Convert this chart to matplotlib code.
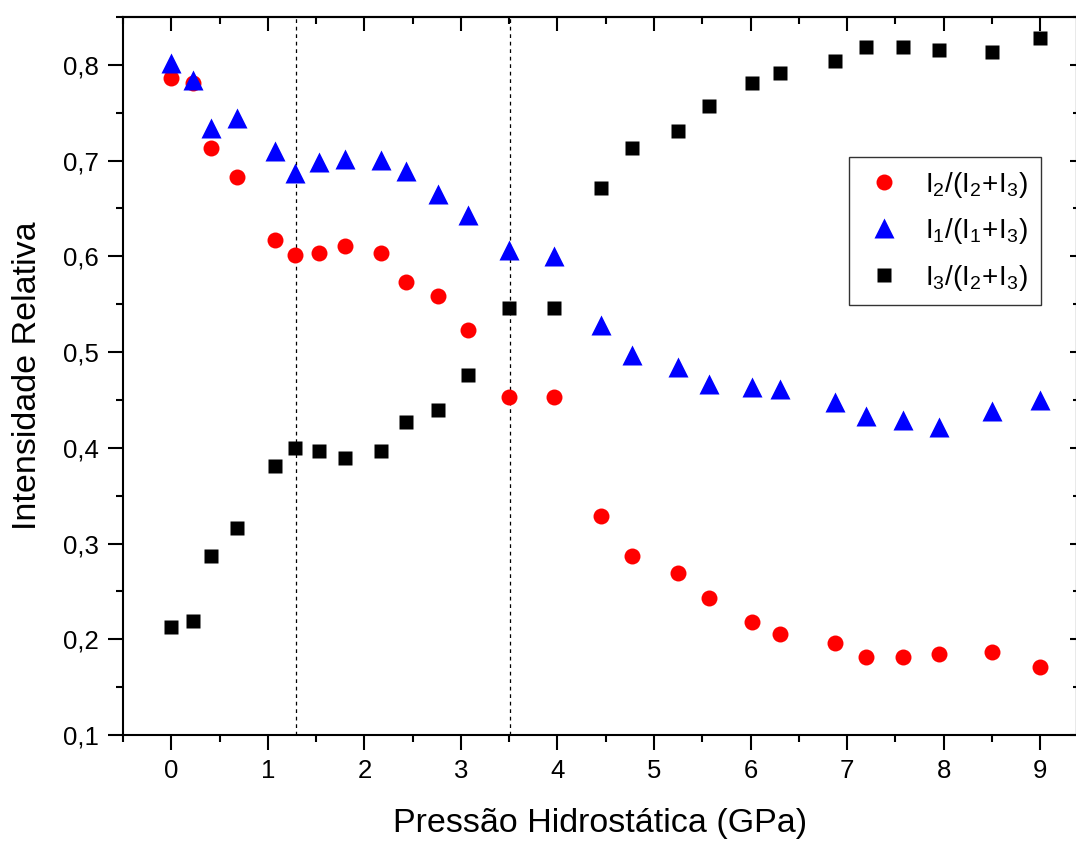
import numpy as np
import matplotlib
matplotlib.use("Agg")
import matplotlib.pyplot as plt
from matplotlib.ticker import MultipleLocator, FuncFormatter

plt.rcParams['font.family'] = ['Liberation Sans', 'DejaVu Sans']
plt.rcParams['mathtext.fontset'] = 'custom'
plt.rcParams['mathtext.rm'] = 'Liberation Sans'
plt.rcParams['mathtext.it'] = 'Liberation Sans'

# pressure points (GPa)
pressao = [0.0, 0.22, 0.41, 0.68, 1.07, 1.28, 1.53, 1.80, 2.17, 2.43, 2.76, 3.07, 3.50,
           3.96, 4.45, 4.77, 5.25, 5.57, 6.01, 6.30, 6.87, 7.19, 7.58, 7.95, 8.50, 9.00]

i2_i2i3 = [0.786, 0.781, 0.713, 0.683, 0.617, 0.601, 0.603, 0.611, 0.604, 0.573, 0.559, 0.523, 0.453,
           0.453, 0.329, 0.287, 0.269, 0.243, 0.218, 0.206, 0.196, 0.181, 0.181, 0.185, 0.187, 0.171]

i1_i1i3 = [0.802, 0.784, 0.734, 0.744, 0.710, 0.687, 0.699, 0.702, 0.701, 0.689, 0.665, 0.643, 0.607,
           0.600, 0.528, 0.497, 0.484, 0.467, 0.463, 0.461, 0.448, 0.433, 0.429, 0.422, 0.438, 0.450]

i3_i2i3 = [0.213, 0.219, 0.287, 0.316, 0.381, 0.400, 0.397, 0.389, 0.397, 0.427, 0.440, 0.476, 0.546,
           0.546, 0.671, 0.713, 0.731, 0.757, 0.781, 0.792, 0.804, 0.819, 0.819, 0.816, 0.813, 0.828]

# phase transition pressures
transicoes = [1.29, 3.51]

fig = plt.figure(figsize=(10.76, 8.42), dpi=100)
ax = fig.add_axes([0.1143, 0.1271, 0.8866, 0.8527])

ax.plot(pressao, i2_i2i3, 'o', color='#ff0000', ms=11.5, mec='none',
        label=r'$\mathregular{I_2/(I_2\!+\!I_3)}$', zorder=3)
ax.plot(pressao, i1_i1i3, '^', color='#0000ff', ms=14, mec='none',
        label=r'$\mathregular{I_1/(I_1\!+\!I_3)}$', zorder=3)
ax.plot(pressao, i3_i2i3, 's', color='black', ms=10, mec='none',
        label=r'$\mathregular{I_3/(I_2\!+\!I_3)}$', zorder=3)

for xt in transicoes:
    ax.axvline(xt, color='black', ls=(0, (3, 3)), lw=0.9, zorder=1)

ax.set_xlim(-0.5, 9.38)
ax.set_ylim(0.1, 0.85)

ax.xaxis.set_major_locator(MultipleLocator(1))
ax.xaxis.set_minor_locator(MultipleLocator(0.5))
ax.yaxis.set_major_locator(MultipleLocator(0.1))
ax.yaxis.set_minor_locator(MultipleLocator(0.05))
ax.yaxis.set_major_formatter(FuncFormatter(lambda v, p: f"{v:.1f}".replace('.', ',')))

ax.tick_params(which='major', direction='out', length=10.5, width=1.5, labelsize=18.5, pad=7)
ax.tick_params(which='minor', direction='out', length=5, width=1.5)
ax.tick_params(which='both', top=False, right=False)

# inward ticks on the top and right edges
sec_x = ax.secondary_xaxis('top')
sec_x.xaxis.set_major_locator(MultipleLocator(1))
sec_x.xaxis.set_minor_locator(MultipleLocator(0.5))
sec_x.tick_params(which='major', direction='in', length=10, width=1.5, labeltop=False)
sec_x.tick_params(which='minor', direction='in', length=5, width=1.5)
sec_y = ax.secondary_yaxis('right')
sec_y.yaxis.set_major_locator(MultipleLocator(0.1))
sec_y.yaxis.set_minor_locator(MultipleLocator(0.05))
sec_y.tick_params(which='major', direction='in', length=5, width=1.5, labelright=False)
sec_y.tick_params(which='minor', direction='in', length=3, width=1.5)
sec_x.spines['top'].set_linewidth(1.5)
sec_y.spines['right'].set_linewidth(1.5)

for s in ax.spines.values():
    s.set_linewidth(1.5)

ax.set_xlabel('Pressão Hidrostática (GPa)', fontsize=24.5, labelpad=18)
ax.set_ylabel('Intensidade Relativa', fontsize=24.5, labelpad=14)

leg = ax.legend(loc='upper left', bbox_to_anchor=(0.761, 0.805), borderaxespad=0,
                fontsize=20, frameon=True, fancybox=False, edgecolor='#333333', framealpha=1,
                handletextpad=0.7, labelspacing=0.6, borderpad=0.45, handlelength=1.6)
leg.get_frame().set_linewidth(1.0)

plt.savefig('out.png', dpi=100)
